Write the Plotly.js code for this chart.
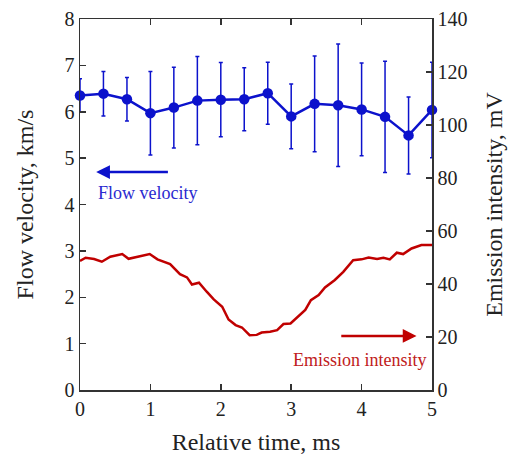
<!DOCTYPE html>
<html>
<head>
<meta charset="utf-8">
<script src="https://cdn.plot.ly/plotly-3.0.1.min.js"></script>
<style>html,body{margin:0;padding:0;background:#fff;}#chart{width:511px;height:455px;}</style>
</head>
<body>
<div id="chart"></div>
<script>
// Flow velocity (left axis, km/s) with error bars
var velTime = [0, 0.333, 0.667, 1, 1.333, 1.667, 2, 2.333, 2.667, 3, 3.333, 3.667, 4, 4.333, 4.667, 5];
var velocity = [6.35, 6.39, 6.27, 5.97, 6.09, 6.24, 6.26, 6.27, 6.40, 5.90, 6.17, 6.14, 6.05, 5.89, 5.49, 6.04];
var velError = [0.36, 0.48, 0.47, 0.90, 0.87, 0.95, 0.80, 0.68, 0.67, 0.70, 1.03, 1.32, 1.00, 1.20, 0.83, 1.03];

// Emission intensity (right axis, mV)
var emTime = [0, 0.08, 0.20, 0.31, 0.43, 0.60, 0.69, 0.86, 0.99, 1.10, 1.28, 1.42, 1.52, 1.59, 1.69,
  1.80, 1.90, 2.02, 2.11, 2.21, 2.30, 2.41, 2.51, 2.58, 2.70, 2.80, 2.89, 2.99, 3.08, 3.20, 3.28, 3.39,
  3.48, 3.62, 3.74, 3.88, 4.00, 4.10, 4.22, 4.31, 4.40, 4.50, 4.59, 4.71, 4.85, 5.0];
var emission = [48.7, 49.9, 49.4, 48.4, 50.3, 51.3, 49.5, 50.5, 51.3, 49.3, 47.5, 43.7, 42.5, 39.8, 40.5,
  37.1, 34.2, 31.4, 26.6, 24.5, 23.6, 20.7, 20.8, 21.7, 22.0, 22.6, 24.9, 25.1, 27.4, 30.2, 33.9, 35.8,
  38.7, 41.5, 44.6, 49.0, 49.3, 50.0, 49.4, 49.9, 49.3, 51.8, 51.3, 53.4, 54.7, 54.7];

var xTicks = [0, 1, 2, 3, 4, 5];
var yTicks = [0, 1, 2, 3, 4, 5, 6, 7, 8];
var y2Ticks = [0, 20, 40, 60, 80, 100, 120, 140];

var BLUE = '#0c12cc';
var RED = '#c00000';
var AX = '#333333';
var FONT = 'Liberation Serif';

var traces = [
  {
    x: emTime, y: emission, type: 'scatter', mode: 'lines', yaxis: 'y2',
    line: {color: RED, width: 2.5}, hoverinfo: 'skip'
  },
  {
    x: velTime, y: velocity, type: 'scatter', mode: 'lines+markers',
    line: {color: BLUE, width: 2.5},
    marker: {color: BLUE, size: 10.5, symbol: 'circle'},
    error_y: {type: 'data', array: velError, visible: true, color: BLUE, thickness: 1.5, width: 2},
    cliponaxis: false
  }
];

var layout = {
  width: 511, height: 455,
  margin: {l: 80, r: 79, t: 19, b: 65},
  paper_bgcolor: '#ffffff', plot_bgcolor: '#ffffff',
  showlegend: false,
  font: {family: FONT, color: '#222222', size: 18},
  xaxis: {
    range: [0, 5], tickvals: xTicks, ticktext: xTicks.map(String),
    ticks: 'inside', ticklen: 6, tickwidth: 1.5, tickcolor: AX,
    showline: true, linecolor: AX, linewidth: 1.5, mirror: 'ticks',
    showgrid: false, zeroline: false,
    tickfont: {family: FONT, size: 20, color: '#222'},
    title: {text: 'Relative time, ms', font: {family: FONT, size: 24, color: '#222'}, standoff: 14}
  },
  yaxis: {
    range: [0, 8], tickvals: yTicks, ticktext: yTicks.map(String),
    ticks: 'inside', ticklen: 6, tickwidth: 1.5, tickcolor: AX,
    showline: true, linecolor: AX, linewidth: 1.5,
    showgrid: false, zeroline: false,
    tickfont: {family: FONT, size: 20, color: '#222'},
    title: {text: 'Flow velocity, km/s', font: {family: FONT, size: 24, color: '#222'}, standoff: 24}
  },
  yaxis2: {
    range: [0, 140], tickvals: y2Ticks, ticktext: y2Ticks.map(String),
    overlaying: 'y', side: 'right',
    ticks: 'inside', ticklen: 6, tickwidth: 1.5, tickcolor: AX,
    showline: true, linecolor: AX, linewidth: 1.5,
    showgrid: false, zeroline: false,
    tickfont: {family: FONT, size: 20, color: '#222'},
    title: {text: 'Emission intensity, mV', font: {family: FONT, size: 24, color: '#222'}, standoff: 18}
  },
  annotations: [
    {
      xref: 'x', yref: 'y', x: 0.23, y: 4.70, axref: 'x', ayref: 'y', ax: 1.27, ay: 4.70,
      showarrow: true, arrowhead: 2, arrowsize: 1.1, arrowwidth: 2.5, arrowcolor: BLUE, text: ''
    },
    {
      xref: 'x', yref: 'y', x: 0.96, y: 4.25, showarrow: false,
      text: 'Flow velocity', font: {family: FONT, size: 18, color: '#2a2ad0'}
    },
    {
      xref: 'x', yref: 'y2', x: 4.78, y: 20.4, axref: 'x', ayref: 'y2', ax: 3.69, ay: 20.4,
      showarrow: true, arrowhead: 2, arrowsize: 1.1, arrowwidth: 2.5, arrowcolor: RED, text: ''
    },
    {
      xref: 'x', yref: 'y2', x: 3.98, y: 11.3, showarrow: false,
      text: 'Emission intensity', font: {family: FONT, size: 18, color: '#c02020'}
    }
  ]
};

Plotly.newPlot('chart', traces, layout, {displayModeBar: false, staticPlot: true});
</script>
</body>
</html>
